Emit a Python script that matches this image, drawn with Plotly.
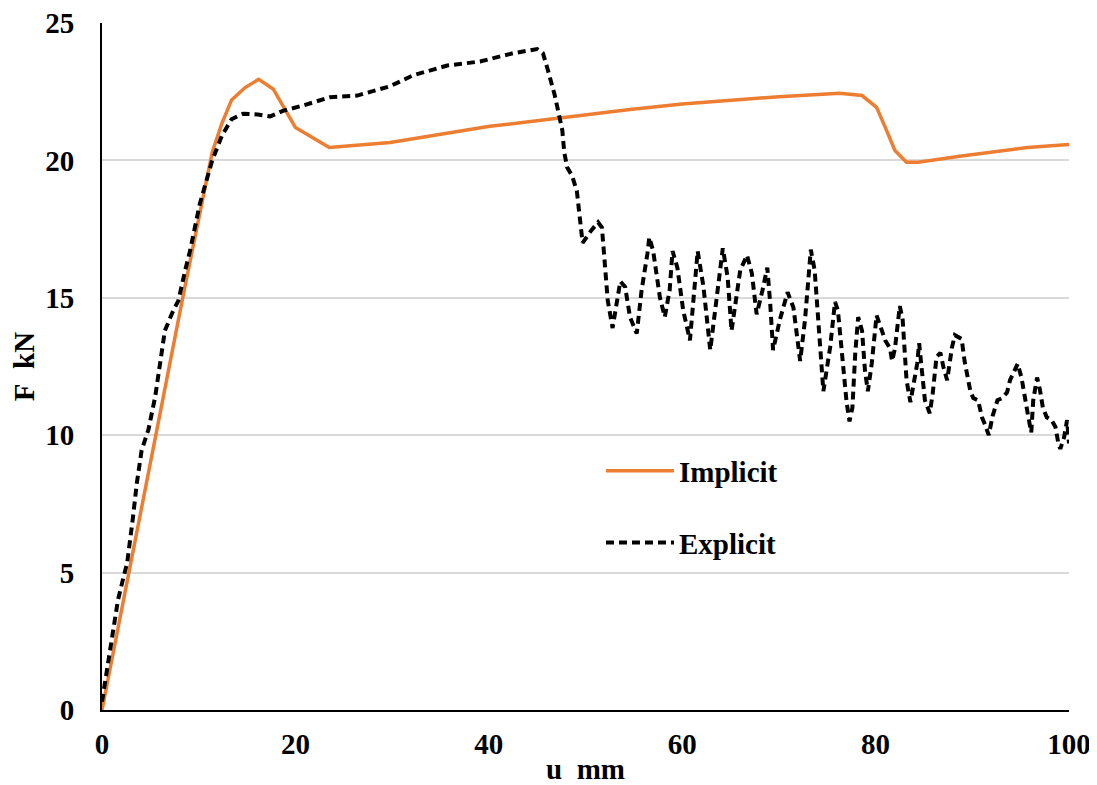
import plotly.graph_objects as go

# Implicit (orange)
imp_u = [0, 8.4, 11.4, 12.4, 13.4, 14.8, 16.2, 17.7, 20.0, 23.5, 29.8, 40.1, 54.6,
         60.0, 70.0, 74.3, 76.3, 78.6, 80.1, 81.0, 82.0, 83.2, 84.4, 88.7, 95.7, 100]
imp_F = [0, 15.1, 20.3, 21.35, 22.2, 22.65, 22.95, 22.6, 21.2, 20.47, 20.65, 21.24, 21.85,
         22.05, 22.32, 22.4, 22.44, 22.36, 21.93, 21.2, 20.36, 19.93, 19.93, 20.15, 20.47, 20.58]

# Explicit (black dashed)
exp_u = [0, 0.3, 1.0, 1.65, 2.2, 2.6, 3.2, 3.6, 4.1, 4.8, 5.5, 6.0, 6.5, 7.2, 7.9, 8.6, 9.1,
         10.1, 11.4, 12.4, 13.4, 14.6, 16.1, 17.4, 18.7, 20.8, 23.6, 26.4, 29.8, 32.2, 35.7,
         39.1, 42.5, 45.0, 45.6, 46.1, 46.8, 47.6, 47.8, 48.1, 48.6, 49.1, 49.7, 50.6, 51.3,
         51.7, 52.0, 52.3, 52.8, 53.4, 53.6, 54.1, 54.6, 55.3, 55.8, 56.4, 56.6, 57.0, 57.7,
         58.2, 58.7, 59.0, 59.5, 60.1, 60.8, 61.6, 62.2, 62.9, 63.4, 64.2, 64.7, 65.1, 66.0,
         66.7, 67.2, 67.7, 68.3, 68.8, 69.1, 69.4, 70.1, 70.9, 71.5, 72.2, 72.7, 73.3, 73.7,
         74.2, 74.6, 75.3, 75.8, 76.1, 77.0, 77.3, 77.6, 77.9, 78.2, 78.6, 78.9, 79.2, 79.6,
         80.1, 80.7, 81.0, 81.5, 81.7, 82.0, 82.3, 82.5, 82.8, 83.2, 83.6, 84.3, 84.5, 84.8,
         85.1, 85.6, 85.9, 86.3, 86.7, 87.0, 87.4, 87.9, 88.2, 88.9, 89.2, 89.8, 90.1, 90.6,
         91.0, 91.3, 91.7, 92.1, 92.6, 93.1, 93.6, 93.9, 94.4, 94.7, 95.1, 95.4, 95.8, 96.1,
         96.3, 96.7, 97.0, 97.3, 97.7, 98.2, 98.6, 98.9, 99.1, 99.5, 99.8, 100]
exp_F = [0.3, 1.0, 2.65, 4.0, 4.8, 5.35, 7.0, 8.25, 9.45, 10.2, 11.4, 12.7, 13.8, 14.4, 14.9, 16.0, 16.7,
         18.4, 20.0, 20.9, 21.5, 21.7, 21.67, 21.6, 21.8, 22.0, 22.3, 22.36, 22.7, 23.1, 23.45,
         23.6, 23.9, 24.05, 23.9, 23.3, 22.4, 21.1, 20.3, 19.75, 19.45, 18.9, 17.0, 17.45, 17.75,
         17.56, 16.35, 14.9, 13.9, 15.27, 15.6, 15.4, 14.3, 13.7, 15.27, 16.6, 17.2, 16.7, 15.0,
         14.3, 15.27, 16.7, 16.1, 14.55, 13.45, 16.7, 15.4, 13.1, 14.55, 16.8, 15.75, 13.8, 16.0,
         16.55, 15.9, 14.4, 15.27, 16.1, 14.8, 13.1, 14.2, 15.2, 14.65, 12.7, 14.2, 16.75, 16.0,
         13.55, 11.6, 13.2, 14.85, 14.55, 11.2, 10.5, 11.0, 13.0, 14.3, 13.8, 12.36, 11.6, 12.6,
         14.36, 13.8, 13.45, 13.15, 12.7, 13.15, 14.25, 14.7, 14.2, 12.0, 11.2, 12.6, 13.35, 12.36,
         11.27, 10.8, 11.5, 12.85, 13.0, 12.5, 12.0, 13.2, 13.64, 13.5, 12.7, 11.6, 11.35, 11.27,
         10.65, 10.4, 10.0, 10.7, 11.27, 11.35, 11.56, 12.0, 12.36, 12.6, 12.07, 11.4, 10.65, 10.1,
         11.27, 12.1, 11.64, 11.0, 10.65, 10.55, 10.3, 9.7, 9.5, 9.93, 10.55, 9.7]

x_ticks = [0, 20, 40, 60, 80, 100]
y_ticks = [0, 5, 10, 15, 20, 25]

FONT = "Liberation Serif, Times New Roman, serif"
FS = 29

fig = go.Figure()
fig.add_trace(go.Scatter(x=imp_u, y=imp_F, mode="lines", name="Implicit",
                         legendgroup="a",
                         line=dict(color="#ED7D31", width=3.5)))
fig.add_trace(go.Scatter(x=exp_u, y=exp_F, mode="lines", name="Explicit",
                         legendgroup="b",
                         line=dict(color="black", width=4, dash="8px,5px")))

# page body has an 8px margin; compensate so the plot area sits where the reference's does
fig.update_layout(
    width=1089, height=777,
    margin=dict(l=94, r=28, t=15, b=75),
    paper_bgcolor="white", plot_bgcolor="white",
    font=dict(family=FONT, size=FS, color="black"),
    showlegend=True,
    legend=dict(x=0.516, y=0.385, xanchor="left", yanchor="top",
                bgcolor="rgba(0,0,0,0)", tracegroupgap=31,
                itemwidth=68,
                font=dict(family=FONT, size=FS, color="black", weight="bold")),
    xaxis=dict(range=[0, 100], tickvals=x_ticks, ticktext=[str(v) for v in x_ticks],
               automargin=False, ticklabeloverflow="allow",
               showgrid=False, zeroline=False, showline=True, linecolor="black", linewidth=2,
               ticks="", ticklabelstandoff=7,
               tickfont=dict(family=FONT, size=FS, weight="bold"),
               title=dict(text="u\u00a0\u00a0mm", font=dict(family=FONT, size=FS, weight="bold"),
                          standoff=13)),
    yaxis=dict(range=[0, 25], tickvals=y_ticks, ticktext=[str(v) for v in y_ticks],
               automargin=False, ticklabeloverflow="allow",
               showgrid=True, gridcolor="#d9d9d9", gridwidth=1.5, zeroline=False,
               showline=True, linecolor="black", linewidth=2,
               ticks="", ticklabelstandoff=20,
               tickfont=dict(family=FONT, size=FS, weight="bold"),
               title=dict(text="F\u00a0\u00a0kN", font=dict(family=FONT, size=FS, weight="bold"),
                          standoff=10)),
)

fig.write_html("out.html")
